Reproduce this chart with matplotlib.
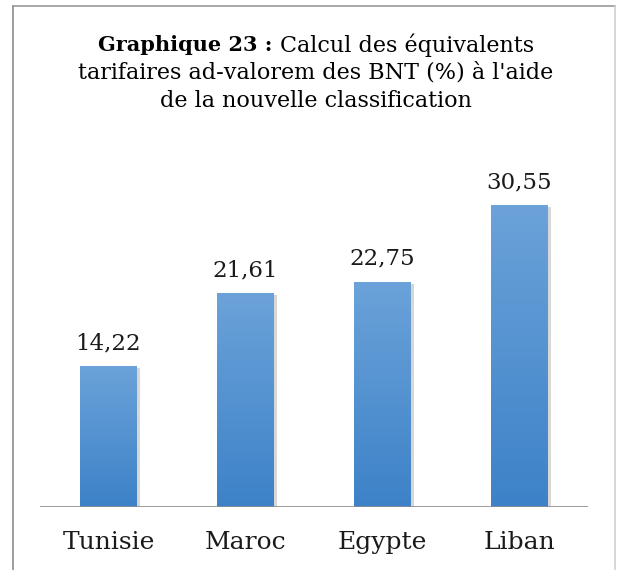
import numpy as np
import matplotlib.pyplot as plt
from matplotlib.lines import Line2D

pays = ['Tunisie', 'Maroc', 'Egypte', 'Liban']
valeurs = [14.22, 21.61, 22.75, 30.55]

titre_gras = 'Graphique 23 : '
titre_1 = 'Calcul des équivalents'
titre_2 = "tarifaires ad-valorem des BNT (%) à l'aide"
titre_3 = 'de la nouvelle classification'


def main():
    plt.rcParams['font.family'] = 'DejaVu Serif'
    W, H = 617, 570
    fig = plt.figure(figsize=(W / 100, H / 100), dpi=100)

    # cadre autour du graphique
    fig.add_artist(Line2D([13 / W, 13 / W], [0, 1 - 6 / H], color='#8c8c8c', lw=1.2))
    fig.add_artist(Line2D([13 / W, 615 / W], [1 - 6 / H, 1 - 6 / H], color='#9a9a9a', lw=1.2))
    fig.add_artist(Line2D([615 / W, 615 / W], [0, 1 - 6 / H], color='#d0d0d0', lw=1.2))

    ax = fig.add_axes([40 / W, 63 / H, 548 / W, 345 / H])
    x = np.arange(len(pays))
    bw = 0.41
    ax.set_xlim(-0.5, len(pays) - 0.5)
    ax.set_ylim(0, 35)

    # barres en degradé
    grad = np.linspace(0, 1, 100).reshape(-1, 1)
    cmap = plt.matplotlib.colors.LinearSegmentedColormap.from_list('b', ['#3d82c8', '#6ba2d9'])
    for xi, v in zip(x, valeurs):
        ax.bar(xi + 0.025, v - 0.15, bw, bottom=0, color='#b0b0b0', alpha=0.5, zorder=1)
        ax.imshow(grad, extent=[xi - bw / 2, xi + bw / 2, 0, v], origin='lower',
                  cmap=cmap, aspect='auto', zorder=2)
        ax.text(xi, v + 1.3, f'{v:.2f}'.replace('.', ','), ha='center', va='bottom',
                fontsize=16.5, color='#1a1a1a')

    ax.axhline(0, color='#8c8c8c', lw=1.2, zorder=3)
    for s in ax.spines.values():
        s.set_visible(False)
    ax.set_yticks([])
    ax.set_xticks(x)
    ax.set_xticklabels(pays, fontsize=18, color='#1a1a1a')
    ax.tick_params(axis='x', length=0, pad=17)

    # titre : premiere ligne en partie grasse
    cx = 316 / W
    fs = 16
    t1 = fig.text(0, 1 - 45 / H, titre_gras, fontsize=15, fontweight='bold', va='center')
    t2 = fig.text(0, 1 - 45 / H, titre_1, fontsize=fs, va='center')
    fig.canvas.draw()
    r = fig.canvas.get_renderer()
    w1 = t1.get_window_extent(r).width / W
    w2 = t2.get_window_extent(r).width / W
    t1.set_x(cx - (w1 + w2) / 2)
    t2.set_x(cx - (w1 + w2) / 2 + w1)
    fig.text(cx, 1 - 73 / H, titre_2, fontsize=fs, ha='center', va='center')
    fig.text(cx, 1 - 101 / H, titre_3, fontsize=fs, ha='center', va='center')

    fig.savefig('out.png', dpi=100)
    plt.close()


if __name__ == "__main__":
    main()
